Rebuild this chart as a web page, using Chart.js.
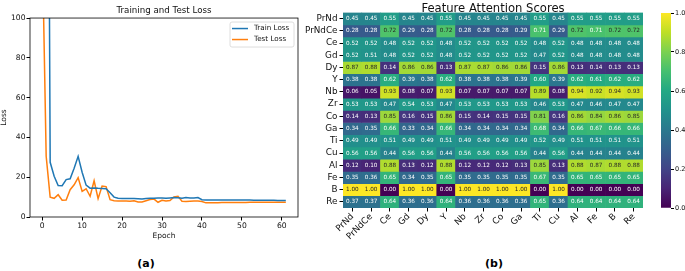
<!DOCTYPE html>
<html>
<head>
<meta charset="utf-8">
<script src="https://cdn.jsdelivr.net/npm/chart.js@4.4.0/dist/chart.umd.min.js"></script>
<style>
  html, body { margin: 0; padding: 0; background: #fff; }
  body { width: 685px; height: 271px; position: relative; overflow: hidden; font-family: "DejaVu Sans", sans-serif; }
  canvas { position: absolute; }
  .panel { position: absolute; font-weight: bold; font-size: 11px; color: #000; transform: translate(-50%, -50%); }
</style>
</head>
<body>
<canvas id="loss" width="300" height="241" style="left:0;top:0"></canvas>
<canvas id="heat" width="350" height="250" style="left:300px;top:0"></canvas>
<canvas id="cbar" width="25" height="215" style="left:660px;top:0"></canvas>
<div class="panel" style="left:146px;top:263px">(a)</div>
<div class="panel" style="left:494px;top:263px">(b)</div>
<script>
// ---- data: loss curves ----
const trainLoss = [600, 450, 27.5, 20.5, 15.8, 15.7, 18.8, 19.2, 24.5, 30.5,
  22.5, 16, 14.5, 14.6, 14.4, 14.3, 14.2, 12.2, 10, 9.4,
  9.3, 9.3, 9.3, 9.3, 9.2, 9.1, 9.3, 9.4, 9.4, 9.5,
  9.6, 9.4, 9.6, 9.8, 9.7, 9.4, 9.8, 9.6, 9.6, 9.8,
  8.7, 8.6, 8.6, 8.6, 8.6, 8.5, 8.5, 8.5, 8.5, 8.5,
  8.5, 8.5, 8.5, 8.4, 8.4, 8.4, 8.4, 8.4, 8.4, 8.3,
  8.3, 8.3];
const testLoss = [140, 30.5, 10, 9.4, 11.2, 8.4, 8.5, 13.7, 16.2, 19.8,
  12.9, 14.2, 10.4, 18.2, 9.2, 15.6, 15.3, 8.7, 8.2, 8.1,
  8.1, 8.0, 7.9, 8.2, 7.6, 7.6, 8.2, 8.8, 9.0, 7.4,
  8.4, 8.0, 8.3, 10.1, 10.4, 7.9, 7.8, 7.9, 8.0, 8.0,
  7.8, 7.1, 7.1, 7.2, 7.2, 7.3, 7.3, 7.3, 7.3, 7.3,
  7.3, 7.3, 7.4, 7.4, 7.4, 7.4, 7.4, 7.4, 7.4, 7.4,
  7.4, 7.4];
const epochs = trainLoss.map((_, i) => i);

// ---- data: attention heatmap ----
const features = ['PrNd', 'PrNdCe', 'Ce', 'Gd', 'Dy', 'Y', 'Nb', 'Zr', 'Co', 'Ga', 'Ti', 'Cu', 'Al', 'Fe', 'B', 'Re'];
const attention = [
  [0.45, 0.45, 0.55, 0.45, 0.45, 0.55, 0.45, 0.45, 0.45, 0.45, 0.55, 0.45, 0.55, 0.55, 0.55, 0.55],
  [0.28, 0.28, 0.72, 0.29, 0.28, 0.72, 0.28, 0.28, 0.28, 0.29, 0.71, 0.29, 0.72, 0.71, 0.72, 0.72],
  [0.52, 0.52, 0.48, 0.52, 0.52, 0.48, 0.52, 0.52, 0.52, 0.52, 0.48, 0.52, 0.48, 0.48, 0.48, 0.48],
  [0.52, 0.51, 0.48, 0.52, 0.52, 0.48, 0.52, 0.52, 0.52, 0.52, 0.47, 0.52, 0.48, 0.48, 0.48, 0.48],
  [0.87, 0.88, 0.14, 0.86, 0.86, 0.13, 0.87, 0.87, 0.86, 0.86, 0.15, 0.86, 0.13, 0.14, 0.13, 0.13],
  [0.38, 0.38, 0.62, 0.39, 0.38, 0.62, 0.38, 0.38, 0.38, 0.39, 0.60, 0.39, 0.62, 0.61, 0.62, 0.62],
  [0.06, 0.05, 0.93, 0.08, 0.07, 0.93, 0.07, 0.07, 0.07, 0.07, 0.89, 0.08, 0.94, 0.92, 0.94, 0.93],
  [0.53, 0.53, 0.47, 0.54, 0.53, 0.47, 0.53, 0.53, 0.53, 0.53, 0.46, 0.53, 0.47, 0.46, 0.47, 0.47],
  [0.14, 0.13, 0.85, 0.16, 0.15, 0.86, 0.15, 0.14, 0.15, 0.15, 0.81, 0.16, 0.86, 0.84, 0.86, 0.85],
  [0.34, 0.35, 0.66, 0.33, 0.34, 0.66, 0.34, 0.34, 0.34, 0.34, 0.68, 0.34, 0.66, 0.67, 0.66, 0.66],
  [0.49, 0.49, 0.51, 0.49, 0.49, 0.51, 0.49, 0.49, 0.49, 0.49, 0.52, 0.49, 0.51, 0.51, 0.51, 0.51],
  [0.56, 0.56, 0.44, 0.56, 0.56, 0.44, 0.56, 0.56, 0.56, 0.56, 0.44, 0.56, 0.44, 0.44, 0.44, 0.44],
  [0.12, 0.10, 0.88, 0.13, 0.12, 0.88, 0.12, 0.12, 0.12, 0.13, 0.85, 0.13, 0.88, 0.87, 0.88, 0.88],
  [0.35, 0.36, 0.65, 0.34, 0.35, 0.65, 0.35, 0.35, 0.35, 0.35, 0.67, 0.35, 0.65, 0.65, 0.65, 0.65],
  [1.00, 1.00, 0.00, 1.00, 1.00, 0.00, 1.00, 1.00, 1.00, 1.00, 0.00, 1.00, 0.00, 0.00, 0.00, 0.00],
  [0.37, 0.37, 0.64, 0.36, 0.36, 0.64, 0.36, 0.36, 0.36, 0.36, 0.65, 0.36, 0.64, 0.64, 0.64, 0.64]
];
const colorbarTicks = [0, 0.2, 0.4, 0.6, 0.8, 1.0];

Chart.defaults.font.family = '"DejaVu Sans", sans-serif';
Chart.defaults.color = '#111';

// viridis colour map
const viridisStops = ['#440154', '#482475', '#414487', '#355f8d', '#2a788e', '#21918c',
  '#22a884', '#44bf70', '#7ad151', '#bddf26', '#fde725'];
function hexRgb(h) {
  return [1, 3, 5].map(i => parseInt(h.slice(i, i + 2), 16));
}
function viridisRgb(v) {
  const t = Math.min(Math.max(v, 0), 1) * (viridisStops.length - 1);
  const i = Math.min(Math.floor(t), viridisStops.length - 2);
  const f = t - i;
  const a = hexRgb(viridisStops[i]), b = hexRgb(viridisStops[i + 1]);
  return a.map((c, k) => Math.round(c + (b[k] - c) * f));
}
function viridis(v) {
  const c = viridisRgb(v);
  return 'rgb(' + c.join(',') + ')';
}
function luminance(v) {
  const lin = viridisRgb(v).map(c => {
    c /= 255;
    return c <= 0.03928 ? c / 12.92 : Math.pow((c + 0.055) / 1.055, 2.4);
  });
  return 0.2126 * lin[0] + 0.7152 * lin[1] + 0.0722 * lin[2];
}

// box around the plot area (matplotlib spines)
const frame = {
  id: 'frame',
  afterDatasetsDraw(chart) {
    const { ctx, chartArea: a } = chart;
    ctx.save();
    ctx.strokeStyle = '#000';
    ctx.lineWidth = 0.8;
    ctx.strokeRect(a.left, a.top, a.right - a.left, a.bottom - a.top);
    ctx.restore();
  }
};

const lossLegend = {
  id: 'lossLegend',
  afterDraw(chart) {
    const { ctx, chartArea: a } = chart;
    const w = 64, h = 25, x = a.right - 4 - w, y = a.top + 4;
    ctx.save();
    ctx.fillStyle = 'rgba(255,255,255,0.8)';
    ctx.strokeStyle = '#d6d6d6';
    ctx.lineWidth = 0.8;
    ctx.beginPath();
    ctx.roundRect(x, y, w, h, 2);
    ctx.fill();
    ctx.stroke();
    ctx.font = '7.2px "DejaVu Sans"';
    ctx.textBaseline = 'middle';
    chart.data.datasets.forEach((ds, i) => {
      const cy = y + 6.5 + i * 11;
      ctx.strokeStyle = ds.borderColor;
      ctx.lineWidth = 1.5;
      ctx.beginPath();
      ctx.moveTo(x + 2, cy);
      ctx.lineTo(x + 18, cy);
      ctx.stroke();
      ctx.fillStyle = '#111';
      ctx.fillText(ds.label, x + 24, cy);
    });
    ctx.restore();
  }
};

new Chart(document.getElementById('loss'), {
  type: 'line',
  data: {
    labels: epochs,
    datasets: [
      { label: 'Train Loss', data: trainLoss, borderColor: '#1f77b4', borderWidth: 1.5 },
      { label: 'Test Loss', data: testLoss, borderColor: '#ff7f0e', borderWidth: 1.5 }
    ]
  },
  options: {
    responsive: false,
    animation: false,
    layout: { padding: { right: 2 } },
    elements: { point: { radius: 0 }, line: { tension: 0 } },
    plugins: {
      legend: { display: false },
      tooltip: { enabled: false },
      title: {
        display: true, text: 'Training and Test Loss', fullSize: false,
        font: { size: 8.7, weight: 'normal' }, color: '#111',
        padding: { top: 5.8, bottom: 1.8 }
      }
    },
    scales: {
      x: {
        type: 'linear', min: -3.05, max: 64.05,
        ticks: { stepSize: 10, includeBounds: false, font: { size: 7.6 }, padding: 1, maxRotation: 0 },
        grid: { drawOnChartArea: false, tickLength: 3.5, color: '#000' },
        border: { display: false },
        title: { display: true, text: 'Epoch', font: { size: 7.5 }, padding: 0 },
        afterFit: s => { s.height = 24; }
      },
      y: {
        min: 0, max: 100,
        ticks: { stepSize: 20, font: { size: 7.6 }, padding: 1 },
        grid: { drawOnChartArea: false, tickLength: 3.5, color: '#000' },
        border: { display: false },
        title: { display: true, text: 'Loss', font: { size: 7.5 }, padding: 0 },
        afterFit: s => { s.width = 30; }
      }
    }
  },
  plugins: [frame, lossLegend]
});

// numbers written into each heatmap cell
const cellText = {
  id: 'cellText',
  afterDatasetsDraw(chart) {
    const ctx = chart.ctx;
    ctx.save();
    ctx.font = '5.7px "DejaVu Sans"';
    ctx.textAlign = 'center';
    ctx.textBaseline = 'middle';
    attention.forEach((row, r) => {
      chart.getDatasetMeta(r).data.forEach((bar, c) => {
        const v = row[c];
        ctx.fillStyle = luminance(v) > 0.408 ? '#262626' : '#fff';
        ctx.fillText(v.toFixed(2), bar.x, (bar.y + bar.base) / 2);
      });
    });
    ctx.restore();
  }
};

new Chart(document.getElementById('heat'), {
  type: 'bar',
  data: {
    labels: features,
    datasets: attention.map((row, r) => ({
      label: features[r],
      data: row.map(() => [r, r + 1]),
      backgroundColor: row.map(v => viridis(v)),
      grouped: false,
      barPercentage: 1,
      categoryPercentage: 1,
      borderWidth: 0
    }))
  },
  options: {
    responsive: false,
    animation: false,
    layout: { padding: { right: 7 } },
    plugins: {
      legend: { display: false },
      tooltip: { enabled: false },
      title: {
        display: true, text: 'Feature Attention Scores', fullSize: false,
        font: { size: 11.6, weight: 'normal', lineHeight: 0.7 }, color: '#111',
        padding: { top: 4.5, bottom: 0 }
      }
    },
    scales: {
      x: {
        ticks: { autoSkip: false, minRotation: 45, maxRotation: 45, font: { size: 8.8 }, padding: 0 },
        grid: { drawOnChartArea: false, offset: false, tickLength: 3.5, color: '#000' },
        border: { display: false },
        afterFit: s => { s.height = 42; }
      },
      y: {
        min: 0, max: features.length, reverse: true,
        afterBuildTicks: s => { s.ticks = features.map((_, i) => ({ value: i + 0.5 })); },
        ticks: { autoSkip: false, callback: (v, i) => features[i], font: { size: 8.8 }, padding: 2 },
        grid: { drawOnChartArea: false, tickLength: 3.5, color: '#000' },
        border: { display: false },
        afterFit: s => { s.width = 43; }
      }
    }
  },
  plugins: [cellText]
});

// colour bar
new Chart(document.getElementById('cbar'), {
  type: 'bar',
  data: {
    labels: [''],
    datasets: [{
      data: [[0, 1]],
      barPercentage: 1,
      categoryPercentage: 1,
      borderWidth: 0,
      backgroundColor: c => {
        const { ctx, chartArea } = c.chart;
        if (!chartArea) return null;
        const g = ctx.createLinearGradient(0, chartArea.bottom, 0, chartArea.top);
        viridisStops.forEach((col, i) => g.addColorStop(i / (viridisStops.length - 1), col));
        return g;
      }
    }]
  },
  options: {
    responsive: false,
    animation: false,
    layout: { padding: { top: 13, bottom: 7, left: 1, right: 0 } },
    plugins: { legend: { display: false }, tooltip: { enabled: false } },
    scales: {
      x: { display: false },
      y: {
        position: 'right', min: 0, max: 1,
        afterBuildTicks: s => { s.ticks = colorbarTicks.map(v => ({ value: v })); },
        ticks: { callback: v => v.toFixed(1), font: { size: 6.5 }, padding: 1 },
        grid: { drawOnChartArea: false, tickLength: 3, color: '#000' },
        border: { display: false },
        afterFit: s => { s.width = 14; }
      }
    }
  }
});
</script>
</body>
</html>
